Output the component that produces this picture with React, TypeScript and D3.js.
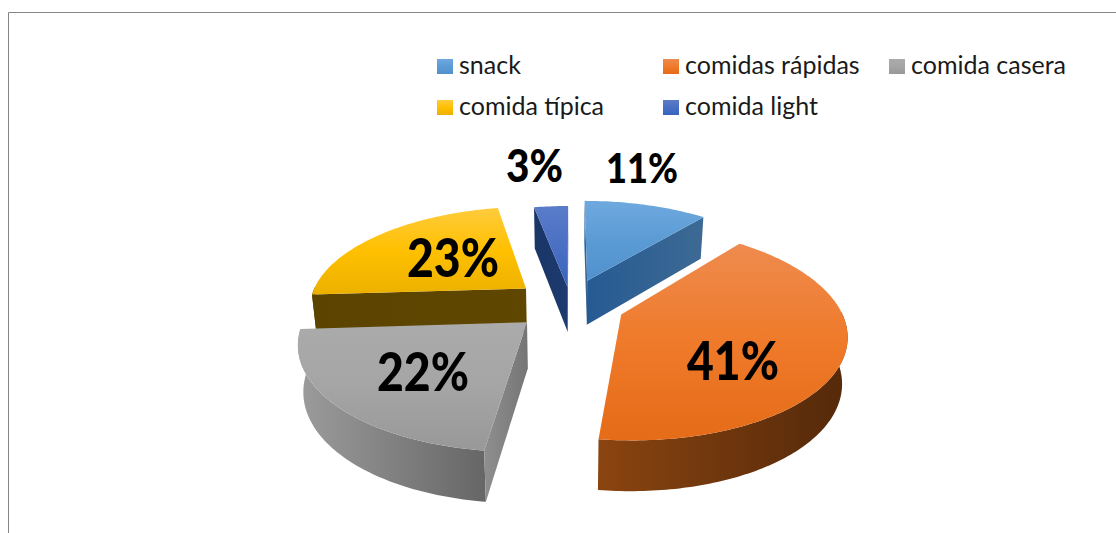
import React from "react";
import * as d3 from "d3";

const categories = ["snack", "comidas rápidas", "comida casera", "comida típica", "comida light"];
const values = [11, 41, 22, 23, 3];
const labels = ["11%", "41%", "22%", "23%", "3%"];

// styling, by slice
const topStops = [
  ["#6ea9de", "#5b9bd5", "#5090cd"],
  ["#ee8b4e", "#ef7a2a", "#e56c18"],
  ["#ababab", "#a5a5a5", "#989898"],
  ["#ffcb3c", "#ffc000", "#ecb000"],
  ["#5a7cc8", "#4a70c4", "#3763bd"],
];
const arcWallStops = [
  ["#355f8a", "#2c5680"],
  ["#8a4410", "#54290a"],
  ["#9c9c9c", "#666666"],
  ["#5c4500", "#5c4500"],
  ["#1f3864", "#1f3864"],
];
const radialWallStops = [
  ["#265a92", "#3d6a94"],
  ["#8a4410", "#54290a"],
  ["#8f8f8f", "#757575"],
  ["#5b4400", "#5f4700"],
  ["#1a3566", "#1d3b70"],
];
const explode = [55, 55, 55, 55, 36];
const nudgeX = [0, 0, 0, 0, 2];
const drawOrder = [4, 0, 3, 2, 1];
const legendPos = [
  [437, 59], [663, 59], [889, 59],
  [437, 100], [663, 100],
];
const labelPos = [
  { x: 642, y: 183, w: 72, fs: 41 },
  { x: 733, y: 380, w: 92, fs: 53 },
  { x: 423, y: 391, w: 92, fs: 53 },
  { x: 453, y: 277, w: 92, fs: 53 },
  { x: 534.5, y: 182, w: 57, fs: 46 },
];

const W = 1116, H = 533;
const CX = 569, CY = 304, R = 214, TILT = 0.47, K = 0.17, XS = 1.016;

type P = [number, number];
const project = (x: number, y: number) => {
  const s = 1 / (1 - (K * y) / R);
  return { X: CX + XS * x * s, Y: CY + TILT * y * s, s };
};
const line = d3.line<P>().curve(d3.curveLinear);
const closed = (pts: P[]) => (line(pts) as string) + "Z";

const pieGen = d3.pie<number>().sort(null).startAngle(0).endAngle(2 * Math.PI);
const arcs = pieGen(values);

function sliceShapes(i: number) {
  const a = arcs[i];
  const mid = (a.startAngle + a.endAngle) / 2;
  const ox = explode[i] * Math.sin(mid);
  const oy = -explode[i] * Math.cos(mid);
  const dx = nudgeX[i];
  const topPt = (x: number, y: number): P => {
    const p = project(x, y);
    return [p.X + dx, p.Y];
  };
  const botPt = (x: number, y: number): P => {
    const p = project(x, y);
    return [CX + (p.X - CX) * 0.98 + dx, p.Y + 24.4 * (p.s + 0.85)];
  };
  const at = (t: number): P => [ox + R * Math.sin(t), oy - R * Math.cos(t)];
  const n = Math.max(6, Math.round(((a.endAngle - a.startAngle) * 180) / Math.PI));
  const ts = d3.range(n + 1).map((j) => a.startAngle + ((a.endAngle - a.startAngle) * j) / n);
  const rim = ts.map(at);
  const top: P[] = [topPt(ox, oy), ...rim.map((p) => topPt(p[0], p[1]))];

  const A = topPt(ox, oy);
  const M = topPt(...at(mid));
  const radial = (t: number) => {
    const o = at(t);
    const Pt = topPt(o[0], o[1]);
    const ex = Pt[0] - A[0], ey = Pt[1] - A[1];
    const crossM = ex * (M[1] - A[1]) - ey * (M[0] - A[0]);
    const crossD = ex;
    if (crossM * crossD >= 0) return null;
    return closed([A, Pt, botPt(o[0], o[1]), botPt(ox, oy)]);
  };
  const walls = [radial(a.startAngle), radial(a.endAngle)].filter(Boolean) as string[];

  const front = ts.filter((t) => -Math.cos(t) > -0.03).map(at);
  const arcWall =
    front.length > 1
      ? closed([
          ...front.map((p) => topPt(p[0], p[1])),
          ...front.slice().reverse().map((p) => botPt(p[0], p[1])),
        ])
      : null;
  return { top: closed(top), walls, arcWall };
}

export default function App() {
  const font = "Lato, sans-serif";
  return (
    <svg
      width={W}
      height={H}
      viewBox={`0 0 ${W} ${H}`}
      style={{ position: "absolute", left: 0, top: 0, background: "#fff" }}
    >
      <defs>
        {categories.map((_, i) => (
          <React.Fragment key={i}>
            <linearGradient id={`top${i}`} x1="0" y1="0" x2="0" y2="1">
              <stop offset="0" stopColor={topStops[i][0]} />
              <stop offset="0.5" stopColor={topStops[i][1]} />
              <stop offset="1" stopColor={topStops[i][2]} />
            </linearGradient>
            <linearGradient id={`arc${i}`} x1="0" y1="0" x2="1" y2="0">
              <stop offset="0" stopColor={arcWallStops[i][0]} />
              <stop offset="1" stopColor={arcWallStops[i][1]} />
            </linearGradient>
            <linearGradient id={`rad${i}`} x1="0" y1="0" x2="1" y2="0">
              <stop offset="0" stopColor={radialWallStops[i][0]} />
              <stop offset="1" stopColor={radialWallStops[i][1]} />
            </linearGradient>
          </React.Fragment>
        ))}
      </defs>
      <path d={`M8.5 ${H}V12.5H${W}`} fill="none" stroke="#868686" strokeWidth={1} />

      {drawOrder.map((i) => {
        const s = sliceShapes(i);
        return (
          <g key={i}>
            {s.arcWall && <path d={s.arcWall} fill={`url(#arc${i})`} />}
            {s.walls.map((d, j) => (
              <path key={j} d={d} fill={`url(#rad${i})`} />
            ))}
            <path d={s.top} fill={`url(#top${i})`} />
          </g>
        );
      })}

      {categories.map((c, i) => (
        <g key={c}>
          <rect x={legendPos[i][0]} y={legendPos[i][1]} width={16} height={15} fill={`url(#top${i})`} />
          <text x={legendPos[i][0] + 22} y={legendPos[i][1] + 15} fontFamily={font} fontSize={25} fill="#1a1a1a">
            {c}
          </text>
        </g>
      ))}

      {labels.map((l, i) => (
        <text
          key={l}
          x={labelPos[i].x}
          y={labelPos[i].y}
          textAnchor="middle"
          fontFamily={font}
          fontWeight={900}
          fontSize={labelPos[i].fs}
          textLength={labelPos[i].w}
          lengthAdjust="spacingAndGlyphs"
          fill="#000"
        >
          {l}
        </text>
      ))}
    </svg>
  );
}
